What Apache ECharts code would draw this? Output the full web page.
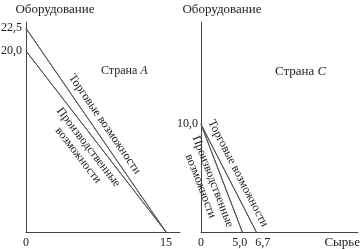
<!DOCTYPE html>
<html>
<head>
<meta charset="utf-8">
<script src="https://cdn.jsdelivr.net/npm/echarts@6/dist/echarts.min.js"></script>
<style>html,body{margin:0;padding:0;background:#fff}#c{width:360px;height:249px}</style>
</head>
<body>
<div id="c"></div>
<script>
// ---- data ----
const panelTitles = ['Страна ', 'Страна '];
const panelLetters = ['A', 'C'];
const tradeA = [[0, 22.5], [15, 0]];
const prodA = [[0, 20.0], [15, 0]];
const tradeC = [[0, 10.0], [6.7, 0]];
const prodC = [[0, 10.0], [5.0, 0]];
const yTicksA = [22.5, 20.0];
const xTicksA = [0, 15];
const yTicksC = [10.0];
const xTicksC = [0, 5.0, 6.7];
const yName = 'Оборудование';
const xName = 'Сырье';
const tradeLabel = 'Торговые возможности';
const prodLabel = 'Производственные\nвозможности';

const FONT = 'Liberation Serif';
const TXT = '#222';
const AX = '#444';
const LN = '#555';

const comma1 = v => v.toFixed(1).replace('.', ',');
const plain = v => String(v);
// nudge the close labels 5,0 and 6,7 apart so both stay readable
const xFmtC = v => {
  if (v === 0) return '0';
  return (v === xTicksC[1] ? '{l|' : '{r|') + comma1(v) + '}';
};

function lineSeries(idx, data, labelText, pos, dist) {
  return {
    type: 'line', xAxisIndex: idx, yAxisIndex: idx,
    data: data, symbol: 'none', silent: true,
    lineStyle: { color: LN, width: 1 },
    markLine: {
      silent: true, symbol: ['none', 'none'], animation: false,
      lineStyle: { color: LN, width: 1, type: 'solid' },
      label: {
        show: true, position: pos, distance: dist,
        formatter: labelText, color: TXT, fontFamily: FONT, fontSize: 12,
        lineHeight: 13, align: 'center'
      },
      data: [[{ coord: data[0] }, { coord: data[1] }]]
    }
  };
}

const chart = echarts.init(document.getElementById('c'), null, { renderer: 'canvas' });
chart.setOption({
  animation: false,
  backgroundColor: '#fff',
  textStyle: { fontFamily: FONT, color: TXT },
  title: [
    { text: '{n|' + panelTitles[0] + '}{i|' + panelLetters[0] + '}', left: 96, top: 60,
      textStyle: { fontWeight: 'normal', rich: { n: { fontFamily: FONT, fontSize: 12, fontWeight: 'normal', color: TXT }, i: { fontFamily: FONT, fontSize: 12, fontWeight: 'normal', fontStyle: 'italic', color: TXT } } } },
    { text: '{n|' + panelTitles[1] + '}{i|' + panelLetters[1] + '}', left: 270, top: 60,
      textStyle: { fontWeight: 'normal', rich: { n: { fontFamily: FONT, fontSize: 13, fontWeight: 'normal', color: TXT }, i: { fontFamily: FONT, fontSize: 13, fontWeight: 'normal', fontStyle: 'italic', color: TXT } } } }
  ],
  grid: [
    { left: 26, top: 22, width: 154, height: 210, outerBoundsMode: 'none', containLabel: false },
    { left: 201, top: 22, width: 157, height: 210, outerBoundsMode: 'none', containLabel: false }
  ],
  xAxis: [
    { gridIndex: 0, type: 'value', min: 0, max: 16.5,
      name: xName, nameLocation: 'middle', nameGap: 6,
      nameTextStyle: { fontFamily: FONT, fontSize: 13, color: TXT, padding: [0, 7, 0, 0] },
      axisLine: { lineStyle: { color: AX, width: 1 } }, axisTick: { show: false }, splitLine: { show: false },
      axisLabel: { customValues: xTicksA, formatter: plain, fontFamily: FONT, fontSize: 12, color: TXT, margin: 5 } },
    { gridIndex: 1, type: 'value', min: 0, max: 19,
      name: xName, nameLocation: 'end', nameGap: 2,
      nameTextStyle: { fontFamily: FONT, fontSize: 13, color: TXT, align: 'right', verticalAlign: 'top', padding: [4, 0, 0, 0] },
      axisLine: { lineStyle: { color: AX, width: 1 } }, axisTick: { show: false }, splitLine: { show: false },
      axisLabel: { customValues: xTicksC, formatter: xFmtC, hideOverlap: false, fontFamily: FONT, fontSize: 12, color: TXT, margin: 5,
        rich: { l: { fontFamily: FONT, fontSize: 12, color: TXT, width: 20, align: 'left' },
                r: { fontFamily: FONT, fontSize: 12, color: TXT, width: 28, align: 'right' } } } }
  ],
  yAxis: [
    { gridIndex: 0, type: 'value', min: 0, max: 23.2,
      name: yName, nameLocation: 'end', nameGap: 6,
      nameTextStyle: { fontFamily: FONT, fontSize: 13, color: TXT, padding: [0, 0, 0, 58] },
      axisLine: { show: true, lineStyle: { color: AX, width: 1 } }, axisTick: { show: false }, splitLine: { show: false },
      axisLabel: { customValues: yTicksA, formatter: comma1, fontFamily: FONT, fontSize: 12, color: TXT, margin: 4 } },
    { gridIndex: 1, type: 'value', min: 0, max: 19.5,
      name: yName, nameLocation: 'end', nameGap: 6,
      nameTextStyle: { fontFamily: FONT, fontSize: 13, color: TXT, padding: [0, 0, 0, 42] },
      axisLine: { show: true, lineStyle: { color: AX, width: 1 } }, axisTick: { show: false }, splitLine: { show: false },
      axisLabel: { customValues: yTicksC, formatter: comma1, fontFamily: FONT, fontSize: 12, color: TXT, margin: 3 } }
  ],
  series: [
    lineSeries(0, tradeA, tradeLabel, 'insideMiddleTop', 4),
    lineSeries(0, prodA, prodLabel, 'insideMiddleBottom', 3),
    lineSeries(1, tradeC, tradeLabel, 'insideMiddleTop', 4),
    lineSeries(1, prodC, prodLabel, 'insideMiddleBottom', 3)
  ]
});
</script>
</body>
</html>
